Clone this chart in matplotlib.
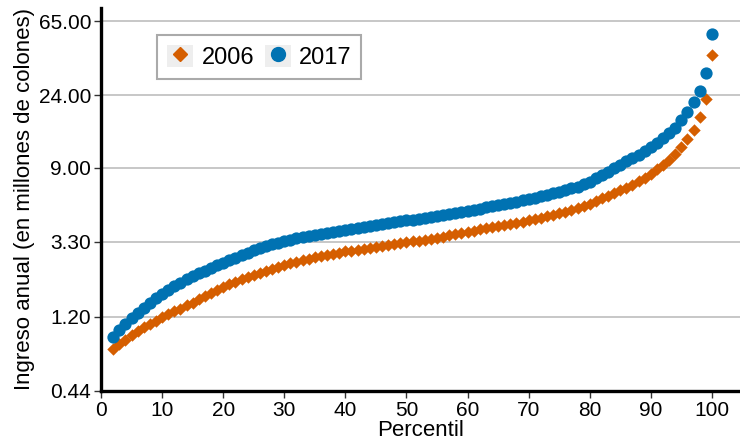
import numpy as np
import matplotlib
matplotlib.use("Agg")
import matplotlib.pyplot as plt
from matplotlib.lines import Line2D
from matplotlib.patches import Patch
from matplotlib.legend_handler import HandlerTuple

plt.rcParams['font.family'] = ['Liberation Sans', 'DejaVu Sans']

# percentiles 2..100
percentil = list(range(2, 101))

# ingreso anual 2006 (millones de colones)
ingreso_2006 = [
    0.78, 0.83, 0.88, 0.94, 0.99, 1.04, 1.09, 1.14, 1.19,              # 2-10
    1.24, 1.29, 1.34, 1.40, 1.45, 1.52, 1.59, 1.66, 1.73, 1.80,        # 11-20
    1.86, 1.92, 1.99, 2.05, 2.12, 2.18, 2.24, 2.30, 2.36, 2.42,        # 21-30
    2.47, 2.53, 2.58, 2.63, 2.68, 2.72, 2.77, 2.81, 2.86, 2.90,        # 31-40
    2.93, 2.97, 3.00, 3.04, 3.08, 3.12, 3.16, 3.20, 3.24, 3.28,        # 41-50
    3.32, 3.36, 3.40, 3.44, 3.50, 3.55, 3.61, 3.67, 3.73, 3.79,        # 51-60
    3.85, 3.91, 3.97, 4.03, 4.09, 4.14, 4.20, 4.27, 4.34, 4.42,        # 61-70
    4.50, 4.58, 4.67, 4.76, 4.86, 4.97, 5.09, 5.22, 5.37, 5.52,        # 71-80
    5.75, 5.95, 6.15, 6.38, 6.62, 6.88, 7.16, 7.48, 7.85, 8.30,        # 81-90
    8.80, 9.30, 9.95, 10.8, 11.9, 13.2, 15.0, 17.8, 22.9, 41.1,        # 91-100
]

# ingreso anual 2017
ingreso_2017 = [
    0.91, 1.00, 1.09, 1.18, 1.27, 1.36, 1.45, 1.54, 1.63,              # 2-10
    1.72, 1.81, 1.90, 1.99, 2.08, 2.16, 2.24, 2.32, 2.40, 2.48,        # 11-20
    2.57, 2.66, 2.76, 2.85, 2.95, 3.03, 3.11, 3.19, 3.27, 3.35,        # 21-30
    3.41, 3.47, 3.52, 3.57, 3.62, 3.67, 3.72, 3.77, 3.82, 3.88,        # 31-40
    3.93, 3.99, 4.05, 4.11, 4.16, 4.21, 4.26, 4.31, 4.36, 4.41,        # 41-50
    4.46, 4.51, 4.56, 4.61, 4.66, 4.72, 4.79, 4.87, 4.95, 5.03,        # 51-60
    5.10, 5.18, 5.26, 5.34, 5.42, 5.51, 5.60, 5.69, 5.79, 5.90,        # 61-70
    6.01, 6.12, 6.24, 6.37, 6.50, 6.64, 6.80, 6.97, 7.20, 7.45,        # 71-80
    7.80, 8.15, 8.55, 8.95, 9.35, 9.80, 10.25, 10.75, 11.3, 11.9,      # 81-90
    12.6, 13.4, 14.3, 15.5, 17.1, 19.2, 21.9, 25.4, 32.4, 54.6,        # 91-100
]

y_ticks = [0.44, 1.20, 3.30, 9.00, 24.00, 65.00]
y_labels = ["0.44", "1.20", "3.30", "9.00", "24.00", "65.00"]
x_ticks = list(range(0, 101, 10))

col_2006 = "#D55E00"
col_2017 = "#0072B2"

fig = plt.figure(figsize=(7.4, 4.43), dpi=100)
ax = fig.add_axes([0.1365, 0.1174, 0.8635, 0.8646])

ax.scatter(percentil, ingreso_2006, marker="D", s=40, color=col_2006,
           linewidths=0, zorder=3)
ax.scatter(percentil, ingreso_2017, marker="o", s=78, color=col_2017,
           linewidths=0, zorder=3)

ax.set_yscale("log")
ax.set_ylim(0.44, 78)
ax.set_xlim(0, 104.6)
ax.set_yticks(y_ticks)
ax.set_yticklabels(y_labels)
ax.minorticks_off()
ax.set_xticks(x_ticks)

ax.grid(axis="y", color="#bdbdbd", linewidth=1.2)
ax.set_axisbelow(True)

for s in ["top", "right"]:
    ax.spines[s].set_visible(False)
for s in ["left", "bottom"]:
    ax.spines[s].set_linewidth(2.4)
    ax.spines[s].set_color("black")

ax.tick_params(axis="both", labelsize=15, length=5, width=1,
               color="#333333", pad=2)

ax.set_xlabel("Percentil", fontsize=16, labelpad=0)
ax.set_ylabel("Ingreso anual (en millones de colones)", fontsize=16, labelpad=3)

# leyenda con fondo gris en las claves
key_bg = "#eeeeee"
h06 = (Patch(facecolor=key_bg, edgecolor="none"),
       Line2D([], [], marker="D", color=col_2006, linestyle="none", markersize=7))
h17 = (Patch(facecolor=key_bg, edgecolor="none"),
       Line2D([], [], marker="o", color=col_2017, linestyle="none", markersize=10))
leg = ax.legend([h06, h17], ["2006", "2017"], ncol=2, loc="upper left",
                bbox_to_anchor=(0.088, 0.93), borderaxespad=0,
                handler_map={tuple: HandlerTuple(ndivide=1, pad=0)},
                fontsize=17, handlelength=1.1, handleheight=1.1,
                handletextpad=0.35, columnspacing=0.45, borderpad=0.42,
                fancybox=False, framealpha=1)
leg.get_frame().set_edgecolor("#aaaaaa")
leg.get_frame().set_linewidth(1.5)

fig.savefig("out.png", dpi=100)
